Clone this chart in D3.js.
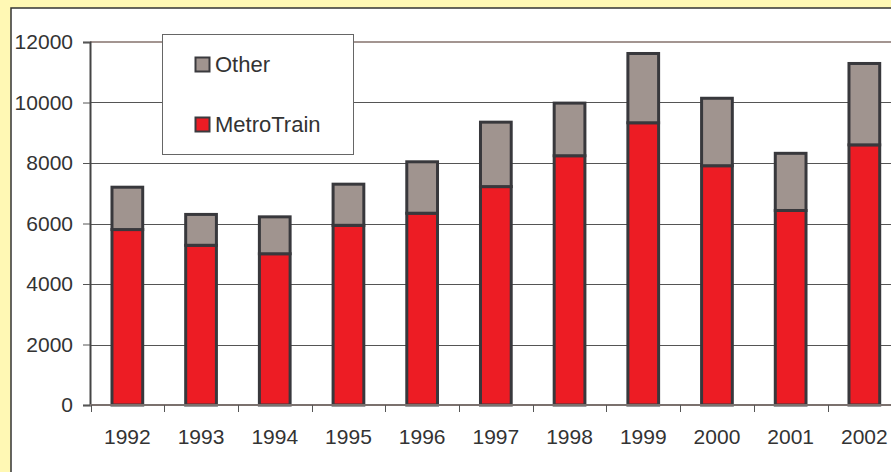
<!DOCTYPE html>
<html>
<head>
<meta charset="utf-8">
<script src="https://cdn.jsdelivr.net/npm/d3@7/dist/d3.min.js"></script>
<style>
  html, body { margin: 0; padding: 0; background: #fff8b4; }
  svg { display: block; }
  text { font-family: "Liberation Sans", Arial, sans-serif; fill: #333; }
</style>
</head>
<body>
<svg id="chart" width="891" height="472"></svg>
<script>
// Passenger totals by year, split into MetroTrain and Other
const years = ["1992", "1993", "1994", "1995", "1996", "1997", "1998", "1999", "2000", "2001", "2002"];
const metroTrain = [5800, 5280, 5000, 5940, 6340, 7220, 8240, 9330, 7910, 6430, 8600];
const other = [1400, 1020, 1220, 1360, 1700, 2130, 1740, 2290, 2230, 1890, 2690];
const yTicks = [0, 2000, 4000, 6000, 8000, 10000, 12000];
const seriesNames = ["MetroTrain", "Other"];
const seriesColors = ["#ed1c24", "#a0948f"];

const svg = d3.select("#chart");
const W = 891, H = 472;

// white chart panel with a dark frame on the visible edges
svg.append("rect").attr("x", 11).attr("y", 8).attr("width", W).attr("height", H)
  .attr("fill", "#fff").attr("stroke", "#333").attr("stroke-width", 1.5);

const x = d3.scaleBand().domain(years).range([90.5, 901.2])
  .paddingInner(0.583).paddingOuter(0.2915);
const y = d3.scaleLinear().domain([0, 12000]).range([405, 42]);

// gridlines
svg.append("g").selectAll("line").data(yTicks.filter(t => t > 0 && t < 12000)).join("line")
  .attr("x1", 90).attr("x2", W).attr("y1", d => Math.round(y(d)) + 0.5).attr("y2", d => Math.round(y(d)) + 0.5)
  .attr("stroke", "#555").attr("stroke-width", 1);
svg.append("line").attr("x1", 90).attr("x2", W).attr("y1", y(12000)).attr("y2", y(12000))
  .attr("stroke", "#a39591").attr("stroke-width", 2);

// y axis
const yAxis = svg.append("g").attr("transform", "translate(90,0)")
  .call(d3.axisLeft(y).tickValues(yTicks).tickFormat(d3.format("d")).tickSize(7).tickPadding(10));
yAxis.select(".domain").attr("stroke", "#444").attr("stroke-width", 2);
yAxis.selectAll(".tick line").attr("stroke", "#555");
yAxis.selectAll("text").attr("font-size", 21).attr("fill", "#333")
  .attr("font-family", "'Liberation Sans', Arial, sans-serif");

// stacked bars
const stackData = years.map((yr, i) => ({ year: yr, MetroTrain: metroTrain[i], Other: other[i] }));
const stacked = d3.stack().keys(seriesNames)(stackData);
svg.append("g").selectAll("g").data(stacked).join("g")
  .attr("fill", (d, i) => seriesColors[i])
  .selectAll("rect").data(d => d).join("rect")
  .attr("x", d => x(d.data.year))
  .attr("y", d => y(d[1]))
  .attr("width", x.bandwidth())
  .attr("height", d => y(d[0]) - y(d[1]))
  .attr("stroke", "#38383c").attr("stroke-width", 3);

// x axis: baseline, boundary ticks, year labels
const step = x.step();
const gap = step - x.bandwidth();
svg.append("line").attr("x1", 90).attr("x2", W).attr("y1", y(0)).attr("y2", y(0))
  .attr("stroke", "#7b716e").attr("stroke-width", 2);
svg.append("g").selectAll("line").data(years).join("line")
  .attr("x1", d => Math.round(x(d) - gap / 2) + 0.5).attr("x2", d => Math.round(x(d) - gap / 2) + 0.5)
  .attr("y1", y(0)).attr("y2", y(0) + 7).attr("stroke", "#555").attr("stroke-width", 1);
const xAxis = svg.append("g").attr("transform", `translate(0,${y(0)})`)
  .call(d3.axisBottom(x).tickSize(0).tickPadding(24));
xAxis.select(".domain").remove();
xAxis.selectAll("text").attr("font-size", 21).attr("fill", "#333")
  .attr("font-family", "'Liberation Sans', Arial, sans-serif");

// legend
const legend = svg.append("g");
legend.append("rect").attr("x", 162.5).attr("y", 34.5).attr("width", 191).attr("height", 120)
  .attr("fill", "#fff").attr("stroke", "#666").attr("stroke-width", 1);
const legendItems = [{ name: "Other", color: seriesColors[1], y: 57.5 }, { name: "MetroTrain", color: seriesColors[0], y: 117.5 }];
legendItems.forEach(it => {
  legend.append("rect").attr("x", 195.5).attr("y", it.y).attr("width", 14).attr("height", 14)
    .attr("fill", it.color).attr("stroke", "#3a3a3e").attr("stroke-width", 2);
  legend.append("text").attr("x", 215).attr("y", it.y + 14.5).attr("font-size", 22).text(it.name);
});
</script>
</body>
</html>
